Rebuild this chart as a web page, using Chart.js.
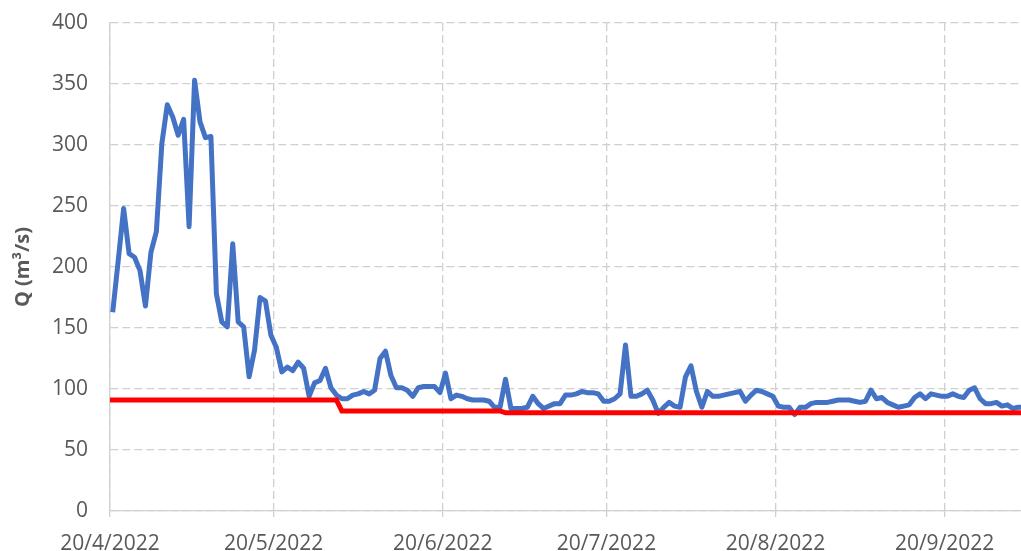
<!DOCTYPE html>
<html>
<head>
<meta charset="utf-8">
<script src="https://cdn.jsdelivr.net/npm/chart.js@4"></script>
<style>
  html, body { margin: 0; padding: 0; background: #fff; }
  #wrap { width: 1021px; height: 551px; position: relative; }
</style>
</head>
<body>
<div id="wrap"><canvas id="lineChart"></canvas></div>
<script>
// daily discharge, day 0 = 20/4/2022
const flow = [
  163, 205, 248, 211, 208, 197, 168, 212, 229, 301,
  333, 323, 308, 321, 233, 353, 319, 306, 307, 178,
  155, 151, 219, 155, 151, 110, 132, 175, 172, 144,
  134, 114, 118, 115, 122, 117, 94, 105, 107, 117,
  101, 95, 92, 92, 95, 96, 98, 96, 99, 125,
  131, 111, 101, 101, 99, 94, 101, 102, 102, 102,
  97, 113, 92, 95, 94, 92, 91, 91, 91, 90,
  85, 85, 108, 84, 84, 84, 85, 94, 88, 84,
  86, 88, 88, 95, 95, 96, 98, 97, 97, 96,
  90, 90, 92, 96, 136, 94, 94, 96, 99, 91,
  80, 85, 89, 86, 85, 110, 119, 98, 85, 98,
  94, 94, 95, 96, 97, 98, 90, 95, 99, 98,
  96, 94, 86, 85, 85, 79, 85, 85, 88, 89,
  89, 89, 90, 91, 91, 91, 90, 89, 90, 99,
  92, 93, 89, 87, 85, 86, 87, 93, 96, 92,
  96, 95, 94, 94, 96, 94, 93, 99, 101, 92,
  88, 88, 89, 86, 87, 84, 85, 85
];

// minimum flow line (step changes)
const limitDays = [0, 41, 42, 71, 72, 167];
const limitValues = [91, 91, 82, 82, 80.5, 80.5];

const tickDays = [0, 30, 61, 91, 122, 153];
const tickLabels = ['20/4/2022', '20/5/2022', '20/6/2022', '20/7/2022', '20/8/2022', '20/9/2022'];

const textColor = '#595959';
const gridColor = '#d0d0d0';
const fontFamily = '"Open Sans", "Noto Sans", sans-serif';

// points sit in the middle of their day, like excel's date axis
const midDay = (d) => d + 0.5;

const ctx = document.getElementById('lineChart');

new Chart(ctx, {
  type: 'line',
  data: {
    datasets: [
      {
        label: 'Q',
        data: flow.map((v, i) => ({ x: midDay(i), y: v })),
        borderColor: '#4472c4',
        borderWidth: 5,
        pointRadius: 0,
        tension: 0,
        borderJoinStyle: 'round',
        order: 1
      },
      {
        label: 'Qmin',
        data: limitDays.map((d, i) => ({ x: i === 0 ? 0 : midDay(d), y: limitValues[i] })),
        borderColor: '#ff0000',
        borderWidth: 5,
        pointRadius: 0,
        tension: 0,
        order: 0
      }
    ]
  },
  options: {
    responsive: true,
    maintainAspectRatio: false,
    animation: false,
    layout: { padding: { top: 23, right: 0, bottom: 0, left: 0 } },
    plugins: {
      legend: { display: false },
      tooltip: { enabled: false }
    },
    scales: {
      x: {
        type: 'linear',
        min: 0,
        max: 167,
        afterBuildTicks: (axis) => {
          axis.ticks = tickDays.map((d) => ({ value: d }));
        },
        afterFit: (scale) => { scale.height = 40; },
        ticks: {
          autoSkip: false,
          maxRotation: 0,
          padding: 14,
          color: textColor,
          font: { family: fontFamily, size: 21 },
          callback: (value, index) => tickLabels[index]
        },
        grid: {
          color: gridColor,
          lineWidth: 1.3,
          tickColor: gridColor,
          tickLength: 6,
          tickBorderDash: []
        },
        border: { color: gridColor, width: 1.3, dash: [8, 4] }
      },
      y: {
        min: 0,
        max: 400,
        afterFit: (scale) => {
          scale.width = 110;
          // tick padding would otherwise push the plot down
          scale.paddingTop = 0;
          scale.paddingBottom = 0;
        },
        ticks: {
          stepSize: 50,
          padding: 22,
          color: textColor,
          font: { family: fontFamily, size: 21 }
        },
        grid: {
          color: gridColor,
          lineWidth: 1.3,
          drawTicks: false
        },
        border: { color: gridColor, width: 1.3, dash: [8, 4] },
        title: {
          display: true,
          text: 'Q (m³/s)',
          color: textColor,
          font: { family: fontFamily, size: 20, weight: 'bold' },
          padding: { top: 11, bottom: 0 }
        }
      }
    }
  }
});
</script>
</body>
</html>
